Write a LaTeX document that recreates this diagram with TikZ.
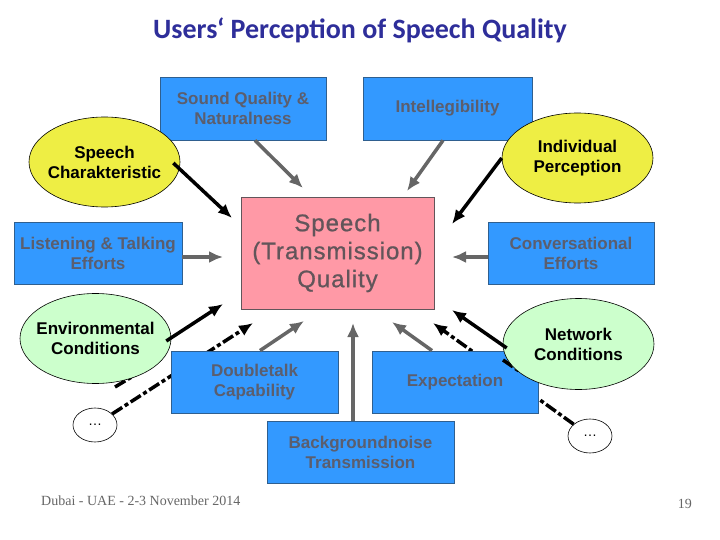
\documentclass[tikz,border=0pt]{standalone}
\usepackage{fontspec}
\setmainfont{Liberation Sans}
\newfontfamily\titlefont{Carlito}
\newfontfamily\footfont{Liberation Serif}
\newfontfamily\corefont[LetterSpace=4, FakeBold=0.8]{Liberation Sans}
\usetikzlibrary{positioning, arrows.meta, shapes.geometric}
\definecolor{boxblue}{HTML}{3399FF}
\definecolor{boxedge}{HTML}{2F5F8F}
\definecolor{boxtext}{HTML}{5B5E6E}
\definecolor{corepink}{HTML}{FF99A6}
\definecolor{coretext}{HTML}{62555A}
\definecolor{charyellow}{HTML}{EEEE44}
\definecolor{envgreen}{HTML}{CCFFCC}
\definecolor{titleblue}{HTML}{2E2E9A}
\definecolor{muted}{HTML}{666666}

\begin{document}
\begin{tikzpicture}[x=1pt, y=-1pt,
      every node/.style={font=\fontsize{17}{20}\selectfont\bfseries, align=center, inner sep=1pt},
      factor/.style={rectangle, draw=boxedge, line width=0.8pt, fill=boxblue, text=boxtext,
                     minimum height=62pt},
      core/.style={rectangle, draw=coretext, line width=0.8pt, fill=corepink, text=coretext,
                   minimum width=193pt, minimum height=112pt, font=\corefont\fontsize{24}{28}\selectfont},
      oval/.style={ellipse, draw=black, line width=0.6pt, fill=charyellow, minimum width=151pt,
                   minimum height=90pt, inner xsep=-10pt, inner ysep=0pt},
      dots/.style={ellipse, draw=black, line width=0.6pt, fill=white, minimum width=44pt,
                   minimum height=34pt, font=\fontsize{14}{16}\selectfont},
      arr/.style={-{Latex[length=14pt,width=12pt]}, line width=3.5pt},
      garr/.style={arr, draw=muted},
      dline/.style={line width=3.5pt, dash pattern=on 12pt off 3pt on 4pt off 3pt},
      darr/.style={dline, -{Latex[length=14pt,width=12pt]}},
    ]
    \fill[white] (0,0) rectangle (720,540);
    \useasboundingbox (0,0) rectangle (720,540);

    \node[font=\titlefont\fontsize{28}{32}\selectfont\bfseries, text=titleblue] (title) at (360,30)
      {Users‘ Perception of Speech Quality};

    \node[core] (speech) at (337.5,253) {Speech\\(Transmission)\\Quality};

    % lower left and right, partly hidden lines first
    \node[dots] (dotsl) at (95,425) {\ldots};
    \node[dots] (dotsr) at (590,436) {\ldots};
    \coordinate (lstub)    at (115,387);
    \coordinate (lstubend) at (160,360);
    \draw[dline] (lstub) -- (lstubend);
    \node[oval, fill=envgreen] (envc) at (95.5,338.5) {Environmental\\Conditions};

    \coordinate (tdl) at (253,323);
    \coordinate (tdr) at (433,323);
    \draw[darr] (dotsl) -- (tdl);
    \draw[darr] (dotsr) -- (tdr);

    \node[factor, minimum width=167pt] (dtalk)  at (254.5,382) {Doubletalk\\Capability};
    \node[factor, minimum width=166pt] (expect) at (455,382)   {Expectation};
    \coordinate (rstub)    at (503,360);
    \coordinate (rstubend) at (519,371);
    \draw[dline] (rstub) -- (rstubend);
    \node[oval, fill=envgreen, minimum height=91pt] (netc) at (578.5,344) {Network\\Conditions};

    \node[factor, minimum width=187pt] (bgnoise) at (360.5,452) {Backgroundnoise\\Transmission};

    % upper row
    \node[factor, minimum width=166pt, minimum height=63pt] (sound) at (243,108.5) {Sound Quality \&\\Naturalness};
    \node[factor, minimum width=169pt, minimum height=63pt] (intel) at (447.5,108.5) {Intellegibility};
    \node[oval] (spchar) at (104.5,162) {Speech\\Charakteristic};
    \node[oval] (indiv)  at (577.5,158) {Individual\\Perception};
    \node[factor, minimum width=168pt] (listen) at (98,253)  {Listening \& Talking\\Efforts};
    \node[factor, minimum width=166pt] (conv)   at (571,253) {Conversational\\Efforts};

    % arrow tips round the core box
    \coordinate (tsound)  at (303,188);
    \coordinate (tintel)  at (407,191);
    \coordinate (tchar)   at (232,218);
    \coordinate (tindiv)  at (452,224);
    \coordinate (tlisten) at (223,257);
    \coordinate (tconv)   at (452,257);
    \coordinate (tenv)    at (223,304);
    \coordinate (tdtalk)  at (304,321);
    \coordinate (tnoise)  at (353,323);
    \coordinate (texpect) at (392,322);
    \coordinate (tnet)    at (452,310);

    \draw[garr] ([xshift=12pt]sound.south)  -- (tsound);
    \draw[garr] ([xshift=-4.5pt]intel.south) -- (tintel);
    \draw[arr]  ([xshift=-7pt,yshift=-1pt]spchar.east) -- (tchar);
    \draw[arr]  (indiv.west) -- (tindiv);
    \draw[garr] ([yshift=-4pt]listen.east) -- (tlisten);
    \draw[garr] ([yshift=-4pt]conv.west)   -- (tconv);
    \draw[arr]  ([xshift=-5pt,yshift=-2.5pt]envc.east) -- (tenv);
    \draw[garr] ([xshift=5.5pt]dtalk.north)   -- (tdtalk);
    \draw[garr] ([xshift=-7.5pt]bgnoise.north) -- (tnoise);
    \draw[garr] ([xshift=-23pt]expect.north)  -- (texpect);
    \draw[arr]  ([xshift=4pt,yshift=-4pt]netc.west) -- (tnet);

    \node[font=\footfont\fontsize{14}{16}\selectfont, text=muted, anchor=base west] (foot) at (40,505)
      {Dubai - UAE - 2-3 November 2014};
    \node[font=\footfont\fontsize{14}{16}\selectfont, text=muted, anchor=base east] (page) at (693,508) {19};
  \end{tikzpicture}
\end{document}
